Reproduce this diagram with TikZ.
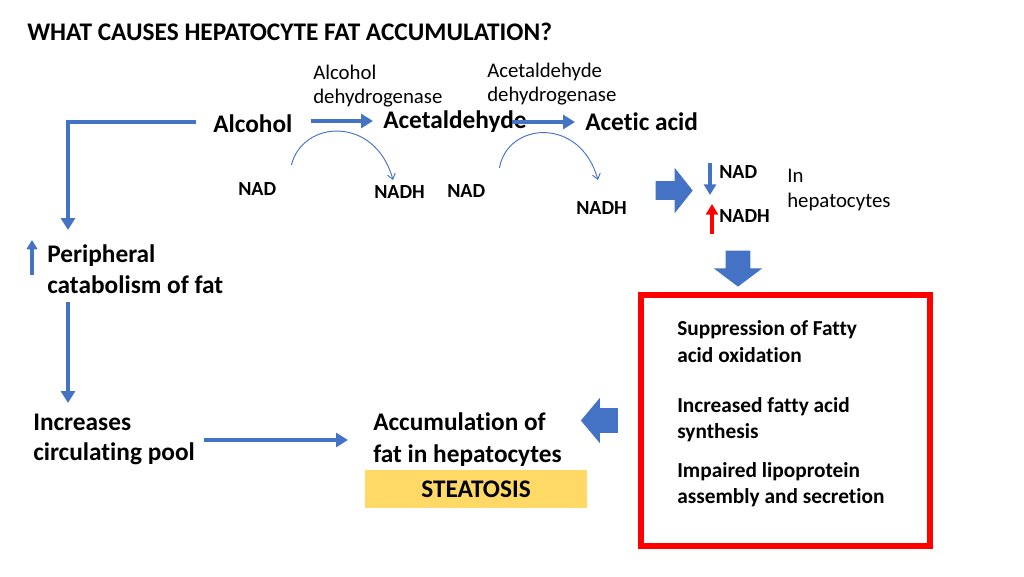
\documentclass[tikz,border=0pt]{standalone}
\usepackage{fontspec}
\setmainfont{Carlito}[Ligatures={NoCommon,NoContextual}]
\usetikzlibrary{arrows.meta,shapes.arrows,calc}
\definecolor{ofblue}{HTML}{4472C4}
\definecolor{ofgold}{HTML}{FFD966}

\begin{document}
\begin{tikzpicture}[x=0.75pt,y=-0.75pt,
  big/.style={font=\fontsize{19}{23.25}\selectfont\bfseries,inner sep=0,anchor=base west,align=left},
  nadtxt/.style={font=\fontsize{15}{18}\selectfont\bfseries,inner sep=0,anchor=base west},
  enz/.style={font=\fontsize{15.6}{18}\selectfont,inner sep=0,anchor=base west,align=left},
  lst/.style={font=\fontsize{16}{19.5}\selectfont\bfseries,inner sep=0,anchor=base west,align=left},
  bar/.style={ofblue,line width=3pt,-{Triangle[length=9pt,width=10.5pt]}},
  curv/.style={ofblue,line width=0.7pt,-{Straight Barb[length=4pt,width=6pt]}},
  block/.style={single arrow,fill=ofblue,draw=none,inner xsep=0}]
\useasboundingbox (0,0) rectangle (1024,576);

\node[font=\fontsize{19}{23}\selectfont\bfseries,inner sep=0,anchor=base west] (title) at (27,40) {WHAT CAUSES HEPATOCYTE FAT ACCUMULATION?};

\node[big] (alc) at (213,132) {Alcohol};
\node[big] (acet) at (383,128) {Acetaldehyde};
\node[big] (acid) at (585,130) {Acetic acid};
\node[enz] (adh) at (313,103) {Alcohol\\dehydrogenase};
\node[enz] (aldh) at (487,101) {Acetaldehyde\\dehydrogenase};

\node[nadtxt] (nad1) at (238,195) {NAD};
\node[nadtxt] (nadh1) at (374,198) {NADH};
\node[nadtxt] (nad2) at (447,197) {NAD};
\node[nadtxt] (nadh2) at (576,214) {NADH};

\node[nadtxt] (hnad) at (719,178) {NAD};
\node[nadtxt] (hnadh) at (719,222) {NADH};
\node[enz,font=\fontsize{15.6}{18.75}\selectfont] (inhep) at (787,207) {In\\hepatocytes};

\node[big] (per) at (47,293) {Peripheral\\catabolism of fat};
\node[big,font=\fontsize{19}{22.5}\selectfont\bfseries] (inc) at (33,460) {Increases\\circulating pool};
\node[big,font=\fontsize{19}{24}\selectfont\bfseries] (acc) at (373,462) {Accumulation of\\fat in hepatocytes};
\node[fill=ofgold,minimum width=166.5pt,minimum height=28.5pt,inner sep=0,
  font=\fontsize{19}{23}\selectfont\bfseries] (ste) at (476,489) {STEATOSIS};

\node[draw=red,line width=4.5pt,minimum width=216.75pt,minimum height=188.25pt] (box) at (785.5,420.5) {};
\node[lst,font=\fontsize{16}{20.25}\selectfont\bfseries] (l1) at (677,362) {Suppression of Fatty\\acid oxidation};
\node[lst] (l2) at (677,438) {Increased fatty acid\\synthesis};
\node[lst] (l3) at (677,503) {Impaired lipoprotein\\assembly and secretion};

\node[block,minimum height=27.75pt,inner ysep=6.75pt,single arrow head extend=10.125pt,single arrow tip angle=103] (bright) at (670.5,190.5) {};
\node[block,minimum height=27pt,inner ysep=9pt,single arrow head extend=9pt,single arrow tip angle=106,rotate=-90] (bdown) at (738,264) {};
\node[block,minimum height=27.75pt,inner ysep=9pt,single arrow head extend=7.875pt,single arrow tip angle=100,rotate=180] (bleft) at (604.5,420.5) {};

\draw[bar] ($(alc.base east)+(18,-11)$) -- ($(acet.base west)+(-10,-7)$);
\draw[bar] ($(acet.base west)+(129,-6)$) -- ($(acid.base west)+(-10,-8)$);
\draw[curv] ($(nad1.base east)+(15,-30)$) .. controls +(11,-45) and +(-18,-65) .. ($(nadh1.base west)+(19,-18)$);
\draw[curv] ($(nad2.base east)+(14,-29)$) .. controls +(8,-46) and +(-18,-64) .. ($(nadh2.base west)+(22,-34)$);

\draw[ofblue,line width=2.6pt,-{Triangle[length=8pt,width=9pt]}] ($(hnad.base west)+(-9,-15)$) -- ($(hnad.base west)+(-9,17)$);
\draw[red,line width=3pt,-{Triangle[length=8pt,width=9pt]}] ($(hnadh.base west)+(-7,12)$) -- ($(hnadh.base west)+(-7,-18)$);
\draw[ofblue,line width=2.5pt,-{Triangle[length=7pt,width=8pt]}] ($(per.base west)+(-15,-18)$) -- ($(per.base west)+(-15,-53)$);

\draw[bar] ($(alc.base west)+(-17,-10)$) -| ($(per.base west)+(21,-63)$);
\draw[bar] ($(per.base west)+(21,9)$) -- ($(inc.base west)+(35,-57)$);
\draw[bar] ($(inc.base west)+(171,-20)$) -- ($(acc.base west)+(-25,-22)$);

\end{tikzpicture}
\end{document}
